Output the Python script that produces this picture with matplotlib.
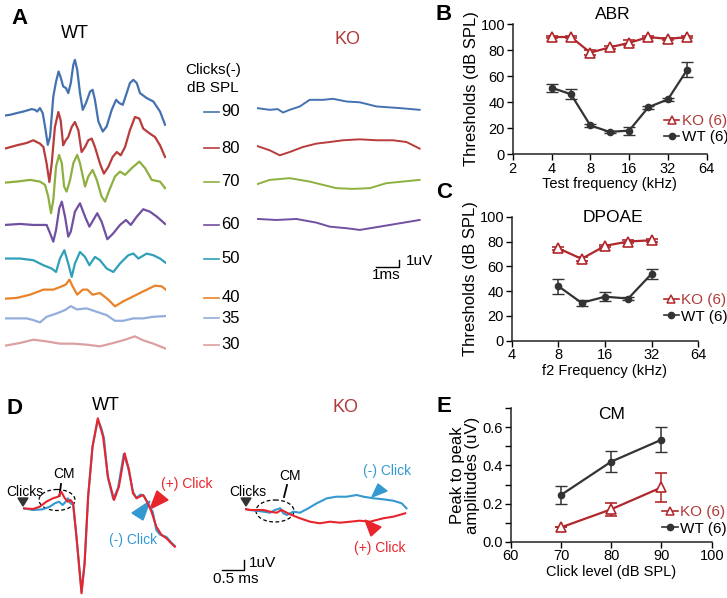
import numpy as np
import matplotlib.pyplot as plt
from matplotlib.patches import Ellipse, Polygon
from matplotlib.lines import Line2D

plt.rcParams['font.family'] = ['Liberation Sans', 'DejaVu Sans']

# ---- panel A : ABR waveforms (time in ms, amplitude in uV) ----
levels = [90, 80, 70, 60, 50, 40, 35, 30]
level_colors = ['#4472b0', '#b83c3c', '#8db040', '#7050a0', '#30a0b8', '#e8832a', '#94aedc', '#dca0a0']

wt90_t = [0, 0.22, 0.51, 0.80, 1.16, 1.30, 1.40, 1.52, 1.64, 1.74, 1.86, 1.96, 2.10, 2.22, 2.33, 2.43, 2.53, 2.65, 2.75, 2.86,
          2.97, 3.04, 3.14, 3.26, 3.38, 3.52, 3.70, 3.81, 3.91, 4.06, 4.25, 4.42, 4.64, 4.83, 4.97, 5.12, 5.29, 5.43, 5.58, 5.73,
          5.87, 6.16, 6.45, 6.74, 6.96]
wt90_v = [-0.51, -0.41, -0.18, 0.04, 0.37, 0.27, 0.04, 0.51, -0.18, -2.01, -4.52, -3.38, 2.10, 4.15, 5.52, 4.62, 3.47, 3.25, 2.56, 3.93,
          6.44, 7.12, 5.75, 2.56, 0.27, 1.19, 2.78, 3.01, 1.64, -1.33, -2.70, -2.01, 0.27, 1.64, 1.19, 0.96, 2.56, 3.93, 4.38, 3.93,
          2.56, 1.88, 1.41, 0.04, -1.78]
wt80_t = [0, 0.51, 0.94, 1.23, 1.52, 1.67, 1.81, 1.93, 2.03, 2.17, 2.32, 2.42, 2.53, 2.64, 2.75, 2.90, 3.04, 3.19, 3.33, 3.48,
          3.62, 3.77, 3.91, 4.13, 4.30, 4.49, 4.68, 4.86, 5.03, 5.22, 5.43, 5.65, 5.84, 6.01, 6.30, 6.52, 6.74, 6.96]
wt80_v = [-0.04, 0.41, 0.73, 1.10, 0.64, 0.18, -2.10, -4.62, -2.10, 2.92, 4.97, 3.84, 0.41, 1.10, 1.55, 2.92, 3.60, 2.47, -0.51, 0.18,
          1.10, 1.33, 0.18, -2.10, -3.47, -2.56, -1.19, -0.51, -0.96, 0.18, 2.47, 4.29, 4.07, 2.70, 2.01, 1.55, 0.41, -1.19]
wt70_t = [0, 0.51, 1.09, 1.52, 1.74, 1.88, 2.00, 2.10, 2.22, 2.35, 2.47, 2.57, 2.68, 2.83, 2.97, 3.14, 3.26, 3.48, 3.62, 3.81,
          3.99, 4.20, 4.35, 4.54, 4.78, 5.00, 5.22, 5.51, 5.84, 6.09, 6.38, 6.74, 6.96]
wt70_v = [-0.10, 0.04, 0.27, 0.04, -0.41, -2.01, -4.29, -2.47, 2.10, 3.70, 2.56, -0.64, -1.33, 0.27, 2.56, 3.70, 2.56, -0.64, 0.73, 1.64,
          0.27, -2.01, -2.70, -1.10, 0.73, 1.41, 0.96, 1.88, 2.78, 1.88, 0.27, 0.04, -0.86]
wt60_t = [0, 0.65, 1.23, 1.81, 1.96, 2.10, 2.22, 2.36, 2.47, 2.61, 2.75, 2.86, 3.04, 3.26, 3.48, 3.67, 3.84, 4.01, 4.20, 4.45,
          4.71, 5.00, 5.26, 5.47, 5.73, 6.01, 6.30, 6.60, 6.96]
wt60_v = [0, 0.14, 0, 0, -1.14, -2.29, -0.68, 2.29, 3.19, 1.14, -1.60, -0.92, 1.82, 2.97, 1.14, -0.23, 0.68, 1.60, 0.45, -1.96,
          -1.14, 0, 0.68, 0, 1.14, 2.15, 1.82, 1.14, 0.14]
wt50_t = [0, 0.65, 1.23, 1.67, 2.03, 2.22, 2.39, 2.58, 2.75, 2.90, 3.04, 3.26, 3.48, 3.67, 3.91, 4.13, 4.42, 4.71, 5.00, 5.36,
          5.58, 5.80, 6.16, 6.45, 6.74, 6.99]
wt50_v = [0, 0, -0.23, -0.92, -1.37, -1.84, 0, 1.14, -0.68, -2.52, -0.68, 0.90, 0.22, -0.92, 0.22, -0.23, -1.37, -1.84, -0.68, 0.45,
          0.68, 0, 0.68, 0.45, 0, -0.60]
wt40_t = [0, 0.51, 1.09, 1.67, 2.10, 2.47, 2.64, 2.80, 2.94, 3.14, 3.38, 3.58, 3.81, 4.13, 4.49, 4.78, 5.14, 5.58, 6.01, 6.52,
          6.81, 6.99]
wt40_v = [-0.10, 0, 0.45, 1.14, 1.14, 1.59, 1.82, 2.51, 1.59, 0.45, 1.14, 1.14, 0.45, 0.68, -0.23, -1.15, -0.47, 0.22, 0.90, 1.68,
          1.59, 1.14]
wt35_t = [0, 0.51, 0.94, 1.23, 1.52, 1.81, 2.25, 2.61, 2.86, 3.12, 3.55, 3.99, 4.42, 4.78, 5.14, 5.58, 6.01, 6.45, 6.99]
wt35_v = [0, 0, 0, -0.23, -0.55, 0.22, 0.68, 1.14, 1.68, 1.23, 1.37, 0.90, 0.45, -0.33, -0.33, 0, 0, 0.22, 0.32]
wt30_t = [0, 0.65, 1.23, 1.81, 2.39, 2.97, 3.55, 4.13, 4.71, 5.22, 5.65, 6.01, 6.45, 6.99]
wt30_v = [-0.14, 0.23, 0.68, 0.45, 0.14, 0.14, 0, -0.23, 0.23, 0.68, 1.14, 0.59, 0.14, -0.55]

ko90_t = [0, 0.55, 0.90, 1.13, 1.42, 1.86, 2.29, 2.87, 3.30, 3.89, 4.47, 5.20, 6.20, 7.07]
ko90_v = [0.51, 0.27, 0.37, -0.10, 0.27, 0.73, 1.64, 1.64, 1.78, 1.41, 1.30, 0.73, 0.51, 0.27]
ko80_t = [0, 0.55, 0.99, 1.42, 2.00, 2.58, 3.16, 3.74, 4.47, 5.19, 5.91, 6.50, 7.07]
ko80_v = [0.32, -0.27, -0.96, -0.51, 0.18, 0.64, 0.86, 1.10, 1.23, 1.10, 1.10, 0.86, -0.04]
ko70_t = [0, 0.55, 1.42, 2.29, 2.87, 3.45, 4.17, 4.90, 5.62, 7.07]
ko70_v = [-0.32, 0.27, 0.51, 0.04, -0.41, -0.86, -0.96, -0.86, -0.18, 0.27]
ko60_t = [0.04, 0.84, 1.71, 2.58, 3.16, 3.89, 4.47, 5.34, 6.21, 7.07]
ko60_v = [0.82, 0.68, 0.82, 0.32, -0.23, -0.45, -0.68, -0.23, 0.23, 0.68]

wt_traces = [(wt90_t, wt90_v), (wt80_t, wt80_v), (wt70_t, wt70_v), (wt60_t, wt60_v),
             (wt50_t, wt50_v), (wt40_t, wt40_v), (wt35_t, wt35_v), (wt30_t, wt30_v)]
ko_traces = [(ko90_t, ko90_v), (ko80_t, ko80_v), (ko70_t, ko70_v), (ko60_t, ko60_v)]

# ---- panel D : cochlear microphonic, (+) and (-) click ----
dwt_pos_t = [0, 0.23, 0.38, 0.53, 0.68, 0.80, 0.87, 0.95, 1.02, 1.08, 1.14, 1.20, 1.27, 1.33, 1.40, 1.48, 1.58, 1.70,
             1.82, 1.93, 2.07, 2.18, 2.31, 2.41, 2.50, 2.58, 2.65, 2.73, 2.82, 2.92, 3.03, 3.15, 3.26, 3.37, 3.45]
dwt_pos_v = [-0.03, -0.1, 0.13, 0.63, 0.97, 1.13, 1.63, 0.97, 0.63, 0.80, 0.47, -2.20, -5.53, -8.53, -5.53, 1.13, 6.13, 8.97,
             7.13, 3.13, 0.8, 2.13, 5.47, 3.80, 1.47, 0.97, 1.13, 1.30, 0.63, -0.37, -1.87, -2.70, -3.03, -3.53, -3.87]
dwt_neg_t = [0, 0.23, 0.45, 0.61, 0.72, 0.82, 0.90, 0.97, 1.02, 1.08, 1.14, 1.20, 1.27, 1.33, 1.40, 1.48, 1.58, 1.70,
             1.78, 1.84, 1.93, 2.05, 2.16, 2.29, 2.39, 2.50, 2.58, 2.67, 2.75, 2.83, 2.95, 3.03, 3.11, 3.26, 3.37, 3.45]
dwt_neg_v = [-0.03, -0.2, -0.13, 0.13, 0.47, 0.63, 0.30, 0.63, 0.97, 0.47, 0.30, -2.20, -5.53, -8.4, -5.53, 1.13, 6.13, 8.8,
             8.0, 6.97, 3.0, 0.9, 2.0, 5.4, 4.0, 1.6, 1.0, 1.35, 1.2, 0.5, -0.4, -2.2, -2.65, -2.9, -3.45, -3.8]
dko_neg_t = [0, 0.11, 0.42, 0.57, 0.68, 0.80, 0.87, 0.95, 1.10, 1.25, 1.44, 1.63, 1.86, 2.08, 2.31, 2.54, 2.69, 2.92,
             3.14, 3.37, 3.56, 3.67]
dko_neg_v = [0.1, 0, -0.17, -0.27, 0, 0.17, -0.33, -0.5, -0.17, -0.27, 0.17, 0.67, 1.17, 1.33, 1.33, 1.5, 1.33, 1.17,
             1.07, 0.93, 0.67, 0.17]
dko_pos_t = [0, 0.11, 0.42, 0.57, 0.72, 0.83, 0.95, 1.06, 1.25, 1.48, 1.70, 1.93, 2.16, 2.39, 2.61, 2.84, 3.14, 3.37, 3.64]
dko_pos_v = [0.1, 0, 0, -0.17, -0.27, 0, -0.27, -0.5, -0.83, -1.17, -1.33, -1.17, -1.27, -1.17, -1.07, -1.17, -0.83,
             -0.67, -0.33]

# ---- panels B, C, E ----
abr_freq = [4, 5.66, 8, 11.3, 16, 22.6, 32, 45.3]
abr_ko = [90, 90, 78, 82, 85.5, 90, 88.5, 90]
abr_ko_err = [1, 1, 2, 1, 2, 1, 1, 1]
abr_wt = [51, 46, 22, 17, 18, 36, 42, 65]
abr_wt_err = [3, 4, 1, 1, 3, 1, 1, 6]

dp_freq = [8, 11.3, 16, 22.6, 32]
dp_ko = [74.5, 66, 76.5, 80, 81]
dp_ko_err = [1, 1.5, 1, 1, 1]
dp_wt = [44, 30.5, 35.5, 34, 54]
dp_wt_err = [6, 2.5, 3.5, 1, 4]

cm_level = [70, 80, 90]
cm_ko = [0.075, 0.17, 0.285]
cm_ko_err = [0, 0.035, 0.075]
cm_wt = [0.245, 0.42, 0.535]
cm_wt_err = [0.045, 0.055, 0.065]

KO_RED = '#b0282b'
KO_TXT = '#b03a3a'
WT_COL = '#333333'
POS_RED = '#e8252d'
NEG_BLUE = '#3399d0'

W, H = 727, 598
PX_MS_A, PX_UV_A = 23.0, 7.3
PX_MS_D, PX_UV_D = 44.0, 10.0


def px_rect(left, top, right, bottom):
    return [left / W, 1 - bottom / H, (right - left) / W, (bottom - top) / H]


fig = plt.figure(figsize=(W / 100, H / 100), dpi=100)
canvas = fig.add_axes([0, 0, 1, 1])
canvas.set_xlim(0, W)
canvas.set_ylim(H, 0)
canvas.axis('off')

for letter, x, y in [('A', 20, 18), ('B', 444, 15), ('C', 444, 193), ('D', 14, 408), ('E', 444, 407)]:
    canvas.text(x, y, letter, fontsize=16, fontweight='bold', ha='center', va='center')

# ---------------- A ----------------
a_top, a_bot = 40, 360
a_ylim = (0, (a_bot - a_top) / PX_UV_A)
offsets = [34.0, 29.0, 24.4, 18.5, 13.9, 8.5, 5.7, 2.1]

ax_wt = fig.add_axes(px_rect(5, a_top, 166, a_bot))
ax_wt.set_xlim(0, 161 / PX_MS_A)
ax_wt.set_ylim(*a_ylim)
ax_wt.axis('off')
for (t, v), off, col, lvl in zip(wt_traces, offsets, level_colors, levels):
    ax_wt.plot(t, np.array(v) + off, color=col, lw=1.6, solid_joinstyle='round')
    # level legend
    ax_wt.plot([8.65, 9.3], [off, off], color=col, lw=1.2, clip_on=False)
    ax_wt.text(9.4, off, str(lvl), fontsize=12, ha='left', va='center', clip_on=False)

canvas.text(75, 33, 'WT', fontsize=13, ha='center', va='center')
canvas.text(347, 40, 'KO', fontsize=13, ha='center', va='center', color=KO_TXT)
canvas.text(213, 70, 'Clicks(-)', fontsize=11, ha='center', va='center')
canvas.text(213, 88, 'dB SPL', fontsize=11, ha='center', va='center')

ax_ko = fig.add_axes(px_rect(257, a_top, 421, a_bot))
ax_ko.set_xlim(0, 164 / PX_MS_A)
ax_ko.set_ylim(*a_ylim)
ax_ko.axis('off')
for (t, v), off, col in zip(ko_traces, offsets, level_colors):
    ax_ko.plot(t, np.array(v) + off, color=col, lw=1.4, solid_joinstyle='round')

# scale bar 1 ms / 1 uV
sb_t, sb_v = 5.17, 12.74
ax_ko.plot([sb_t, sb_t + 1, sb_t + 1], [sb_v, sb_v, sb_v + 1], color='k', lw=1, clip_on=False)
ax_ko.text(sb_t + 1.3, sb_v + 0.8, '1uV', fontsize=11, ha='left', va='center')
ax_ko.text(sb_t + 0.45, sb_v - 0.2, '1ms', fontsize=11, ha='center', va='top')

# ---------------- D ----------------
ax_dwt = fig.add_axes(px_rect(23, 400, 180, 600))
ax_dwt.set_xlim(0, 157 / PX_MS_D)
ax_dwt.set_ylim((508 - 600) / PX_UV_D, (508 - 400) / PX_UV_D)
ax_dwt.axis('off')
ax_dwt.plot(dwt_neg_t, dwt_neg_v, color=NEG_BLUE, lw=1.5, solid_joinstyle='round')
ax_dwt.plot(dwt_pos_t, dwt_pos_v, color=POS_RED, lw=1.5, solid_joinstyle='round')

ax_dko = fig.add_axes(px_rect(245, 400, 420, 600))
ax_dko.set_xlim(0, 175 / PX_MS_D)
ax_dko.set_ylim((510 - 600) / PX_UV_D, (510 - 400) / PX_UV_D)
ax_dko.axis('off')
ax_dko.plot(dko_neg_t, dko_neg_v, color=NEG_BLUE, lw=1.5)
ax_dko.plot(dko_pos_t, dko_pos_v, color=POS_RED, lw=1.5)

# scale bar 0.5 ms / 1 uV
ax_dko.plot([-0.52, -0.02, -0.02], [-6.0, -6.0, -5.0], color='k', lw=1, clip_on=False)
ax_dko.text(0.08, -5.3, '1uV', fontsize=11, ha='left', va='center')
ax_dko.text(-0.2, -6.2, '0.5 ms', fontsize=11, ha='center', va='top')

canvas.text(106, 406, 'WT', fontsize=13, ha='center', va='center')
canvas.text(345, 408, 'KO', fontsize=13, ha='center', va='center', color=KO_TXT)

# WT annotations
canvas.text(25, 492, 'Clicks', fontsize=10, ha='center', va='center')
canvas.add_patch(Polygon([[18, 498], [28, 498], [23, 506]], closed=True, color='#333333'))
canvas.text(64, 474, 'CM', fontsize=10, ha='center', va='center')
canvas.plot([61, 59.5], [484, 496], color='k', lw=1.3)
canvas.add_patch(Ellipse((57, 500), 36, 21, fill=False, ls=(0, (3, 2)), lw=0.9, color='k'))
canvas.add_patch(Polygon([[150, 509], [157, 491], [168, 500]], closed=True, color=POS_RED))
canvas.add_patch(Polygon([[132, 513], [143, 520], [150, 501]], closed=True, color=NEG_BLUE))
canvas.text(187, 484, '(+) Click', fontsize=10, ha='center', va='center', color=POS_RED)
canvas.text(133, 540, '(-) Click', fontsize=10, ha='center', va='center', color=NEG_BLUE)

# KO annotations
canvas.text(248, 492, 'Clicks', fontsize=10, ha='center', va='center')
canvas.add_patch(Polygon([[241, 498], [251, 498], [246, 506]], closed=True, color='#333333'))
canvas.text(290, 476, 'CM', fontsize=10, ha='center', va='center')
canvas.plot([287, 284], [485, 497], color='k', lw=1.3)
canvas.add_patch(Ellipse((275, 511), 38, 22, fill=False, ls=(0, (3, 2)), lw=0.9, color='k'))
canvas.add_patch(Polygon([[372, 497], [378, 484], [387, 491]], closed=True, color=NEG_BLUE))
canvas.add_patch(Polygon([[365, 520], [381, 527], [371, 536]], closed=True, color=POS_RED))
canvas.text(387, 471, '(-) Click', fontsize=10, ha='center', va='center', color=NEG_BLUE)
canvas.text(380, 548, '(+) Click', fontsize=10, ha='center', va='center', color=POS_RED)


# ---------------- B, C, E ----------------
def style_axes(ax):
    for side in ['top', 'right']:
        ax.spines[side].set_visible(False)
    for side in ['left', 'bottom']:
        ax.spines[side].set_linewidth(1.1)
        ax.spines[side].set_color('#222222')
    ax.tick_params(labelsize=10.5, length=4, width=1, pad=1.5)


def draw_groups(ax, x, ko, ko_err, wt, wt_err):
    ax.errorbar(x, ko, yerr=ko_err, color=KO_RED, lw=1.6, marker='^', ms=6.5, mfc='white', mec=KO_RED,
                mew=1.2, capsize=4, elinewidth=1.1, clip_on=False)
    ax.errorbar(x, wt, yerr=wt_err, color=WT_COL, lw=1.6, marker='o', ms=4.5, capsize=4,
                elinewidth=1.1, clip_on=False)


def group_legend(ax, x, y):
    handles = [Line2D([], [], color=KO_RED, lw=1.2, marker='^', ms=6, mfc='white', mec=KO_RED, mew=1.1),
               Line2D([], [], color=WT_COL, lw=1.2, marker='o', ms=4.5)]
    leg = ax.legend(handles, ['KO (6)', 'WT (6)'], loc='center left', bbox_to_anchor=(x, y), frameon=False,
                    fontsize=11, handlelength=1.0, handletextpad=0.15, labelspacing=0.15, borderpad=0,
                    borderaxespad=0)
    for txt, col in zip(leg.get_texts(), [KO_TXT, 'black']):
        txt.set_color(col)


ax_b = fig.add_axes(px_rect(512.7, 24, 706.7, 154))
ax_b.set_xscale('log', base=2)
ax_b.set_xlim(2, 64)
ax_b.set_ylim(0, 100)
ax_b.set_xticks([2, 4, 8, 16, 32, 64])
ax_b.set_xticklabels(['2', '4', '8', '16', '32', '64'])
ax_b.minorticks_off()
ax_b.set_yticks([0, 20, 40, 60, 80, 100])
style_axes(ax_b)
draw_groups(ax_b, abr_freq, abr_ko, abr_ko_err, abr_wt, abr_wt_err)
ax_b.set_xlabel('Test frequency (kHz)', fontsize=10.5, labelpad=1)
ax_b.set_ylabel('Thresholds (dB SPL)', fontsize=12, labelpad=1)
ax_b.text(0.517, 1.07, 'ABR', transform=ax_b.transAxes, fontsize=12.5, ha='center', va='center')
group_legend(ax_b, 0.78, 0.19)

ax_c = fig.add_axes(px_rect(511.7, 216.7, 698.3, 340.7))
ax_c.set_xscale('log', base=2)
ax_c.set_xlim(4, 64)
ax_c.set_ylim(0, 100)
ax_c.set_xticks([4, 8, 16, 32, 64])
ax_c.set_xticklabels(['4', '8', '16', '32', '64'])
ax_c.minorticks_off()
ax_c.set_yticks([0, 20, 40, 60, 80, 100])
style_axes(ax_c)
draw_groups(ax_c, dp_freq, dp_ko, dp_ko_err, dp_wt, dp_wt_err)
ax_c.set_xlabel('f2 Frequency (kHz)', fontsize=10.5, labelpad=1)
ax_c.set_ylabel('Thresholds (dB SPL)', fontsize=12, labelpad=1)
ax_c.text(0.543, 0.99, 'DPOAE', transform=ax_c.transAxes, fontsize=12.5, ha='center', va='center')
group_legend(ax_c, 0.815, 0.26)

ax_e = fig.add_axes(px_rect(510.7, 408.3, 711.7, 541.7))
ax_e.set_xlim(60, 100)
ax_e.set_ylim(0, 0.7)
ax_e.set_xticks([60, 70, 80, 90, 100])
ax_e.set_yticks([0.0, 0.2, 0.4, 0.6])
ax_e.set_yticks([0.1, 0.3, 0.5, 0.7], minor=True)
ax_e.set_yticklabels(['0.0', '0.2', '0.4', '0.6'])
style_axes(ax_e)
ax_e.tick_params(which='minor', length=4, width=1)
draw_groups(ax_e, cm_level, cm_ko, cm_ko_err, cm_wt, cm_wt_err)
ax_e.set_xlabel('Click level (dB SPL)', fontsize=10.5, labelpad=1)
ax_e.set_ylabel('Peak to peak\namplitudes (uV)', fontsize=12, labelpad=2, linespacing=1.0)
ax_e.text(0.504, 0.95, 'CM', transform=ax_e.transAxes, fontsize=12.5, ha='center', va='center')
group_legend(ax_e, 0.755, 0.16)

fig.savefig('out.png', dpi=100)
